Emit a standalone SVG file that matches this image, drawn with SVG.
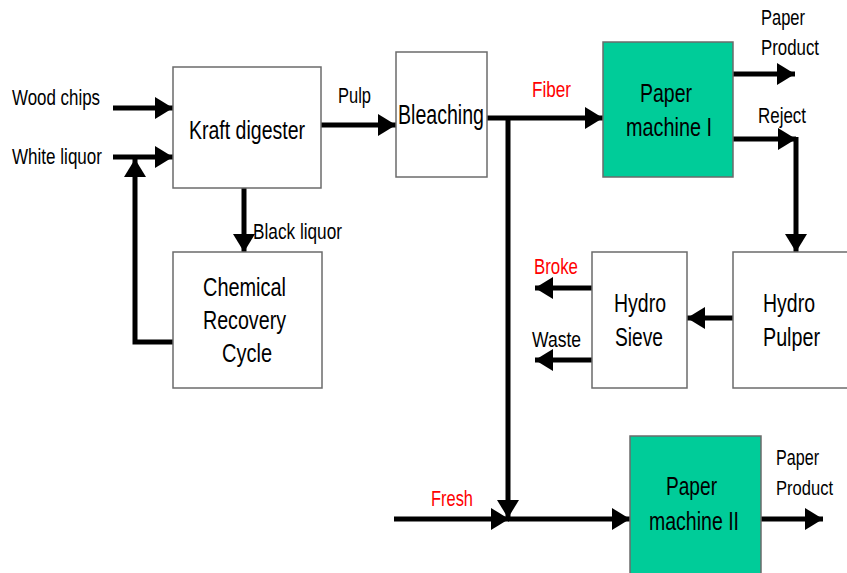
<svg xmlns="http://www.w3.org/2000/svg" width="847" height="573" viewBox="0 0 847 573">
<style>
.box{fill:#fff;stroke:#6b6b6b;stroke-width:1.5}
.green{fill:#00CC99;stroke:#6b6b6b;stroke-width:1.5}
.t{font-family:"Liberation Sans",Arial,sans-serif;fill:#000}
.bt{font-size:25px}
.lt{font-size:22px}
.red{fill:#ff0000}
.c{fill:none;stroke:#000;stroke-width:5}
</style>
<defs>
<marker id="ah" viewBox="0 0 18 22" refX="18" refY="11" markerWidth="18" markerHeight="22" markerUnits="userSpaceOnUse" orient="auto">
<path d="M0,0 L18,11 L0,22 Z" fill="#000"/>
</marker>
</defs>
<rect width="847" height="573" fill="#fff"/>

<g id="connectors">
<path class="c" d="M113,108 H173" marker-end="url(#ah)"/>
<path class="c" d="M113,157 H173" marker-end="url(#ah)"/>
<path class="c" d="M173,342 H135 V159" marker-end="url(#ah)"/>
<path class="c" d="M244,188 V252" marker-end="url(#ah)"/>
<path class="c" d="M321,125 H396" marker-end="url(#ah)"/>
<path class="c" d="M487,118 H603" marker-end="url(#ah)"/>
<path class="c" d="M508,118 V518" marker-end="url(#ah)"/>
<path class="c" d="M394,519 H509" marker-end="url(#ah)"/>
<path class="c" d="M508,519 H630" marker-end="url(#ah)"/>
<path class="c" d="M761,519 H823" marker-end="url(#ah)"/>
<path class="c" d="M733,74 H795" marker-end="url(#ah)"/>
<path class="c" d="M733,139 H796" marker-end="url(#ah)"/>
<path class="c" d="M796,137 V252" marker-end="url(#ah)"/>
<path class="c" d="M733,318 H687" marker-end="url(#ah)"/>
<path class="c" d="M592,288 H535" marker-end="url(#ah)"/>
<path class="c" d="M592,360 H535" marker-end="url(#ah)"/>
</g>

<g id="kraft-digester">
<rect class="box" x="173" y="67" width="148" height="121"/>
<text class="t" x="189" y="139" font-size="26" textLength="116" lengthAdjust="spacingAndGlyphs">Kraft digester</text>
</g>
<g id="bleaching">
<rect class="box" x="396" y="52" width="91" height="125"/>
<text class="t" x="398" y="124" font-size="27" textLength="86" lengthAdjust="spacingAndGlyphs">Bleaching</text>
</g>
<g id="chemical-recovery">
<rect class="box" x="173" y="252" width="149" height="136"/>
<text class="t bt" x="203" y="296" textLength="83" lengthAdjust="spacingAndGlyphs">Chemical</text>
<text class="t bt" x="203" y="329" textLength="83" lengthAdjust="spacingAndGlyphs">Recovery</text>
<text class="t bt" x="222" y="362" textLength="50" lengthAdjust="spacingAndGlyphs">Cycle</text>
</g>
<g id="paper-machine-1">
<rect class="green" x="603" y="42" width="130" height="135"/>
<text class="t bt" x="640" y="102" textLength="52" lengthAdjust="spacingAndGlyphs">Paper</text>
<text class="t bt" x="626" y="136" textLength="86" lengthAdjust="spacingAndGlyphs">machine I</text>
</g>
<g id="hydro-sieve">
<rect class="box" x="592" y="252" width="95" height="136"/>
<text class="t bt" x="614" y="312" textLength="52" lengthAdjust="spacingAndGlyphs">Hydro</text>
<text class="t bt" x="615" y="346" textLength="48" lengthAdjust="spacingAndGlyphs">Sieve</text>
</g>
<g id="hydro-pulper">
<rect class="box" x="733" y="252" width="120" height="136"/>
<text class="t bt" x="763" y="312" textLength="52" lengthAdjust="spacingAndGlyphs">Hydro</text>
<text class="t bt" x="763" y="346" textLength="57" lengthAdjust="spacingAndGlyphs">Pulper</text>
</g>
<g id="paper-machine-2">
<rect class="green" x="630" y="436" width="131" height="140"/>
<text class="t bt" x="666" y="495" textLength="51" lengthAdjust="spacingAndGlyphs">Paper</text>
<text class="t bt" x="649" y="530" textLength="90" lengthAdjust="spacingAndGlyphs">machine II</text>
</g>

<g id="labels">
<text class="t lt" x="12" y="105" textLength="88" lengthAdjust="spacingAndGlyphs">Wood chips</text>
<text class="t lt" x="12" y="164" textLength="90" lengthAdjust="spacingAndGlyphs">White liquor</text>
<text class="t lt" x="338" y="103" textLength="33" lengthAdjust="spacingAndGlyphs">Pulp</text>
<text class="t lt" x="253" y="239" textLength="89" lengthAdjust="spacingAndGlyphs">Black liquor</text>
<text class="t lt red" x="532" y="97" textLength="39" lengthAdjust="spacingAndGlyphs">Fiber</text>
<text class="t lt" x="761" y="25" textLength="44" lengthAdjust="spacingAndGlyphs">Paper</text>
<text class="t lt" x="761" y="55" textLength="58" lengthAdjust="spacingAndGlyphs">Product</text>
<text class="t lt" x="758" y="123" textLength="48" lengthAdjust="spacingAndGlyphs">Reject</text>
<text class="t lt red" x="534" y="274" textLength="44" lengthAdjust="spacingAndGlyphs">Broke</text>
<text class="t lt" x="532" y="347" textLength="49" lengthAdjust="spacingAndGlyphs">Waste</text>
<text class="t lt red" x="431" y="506" textLength="42" lengthAdjust="spacingAndGlyphs">Fresh</text>
<text class="t lt" x="776" y="465" textLength="43" lengthAdjust="spacingAndGlyphs">Paper</text>
<text class="t" x="776" y="495" font-size="20" textLength="57" lengthAdjust="spacingAndGlyphs">Product</text>
</g>
</svg>
